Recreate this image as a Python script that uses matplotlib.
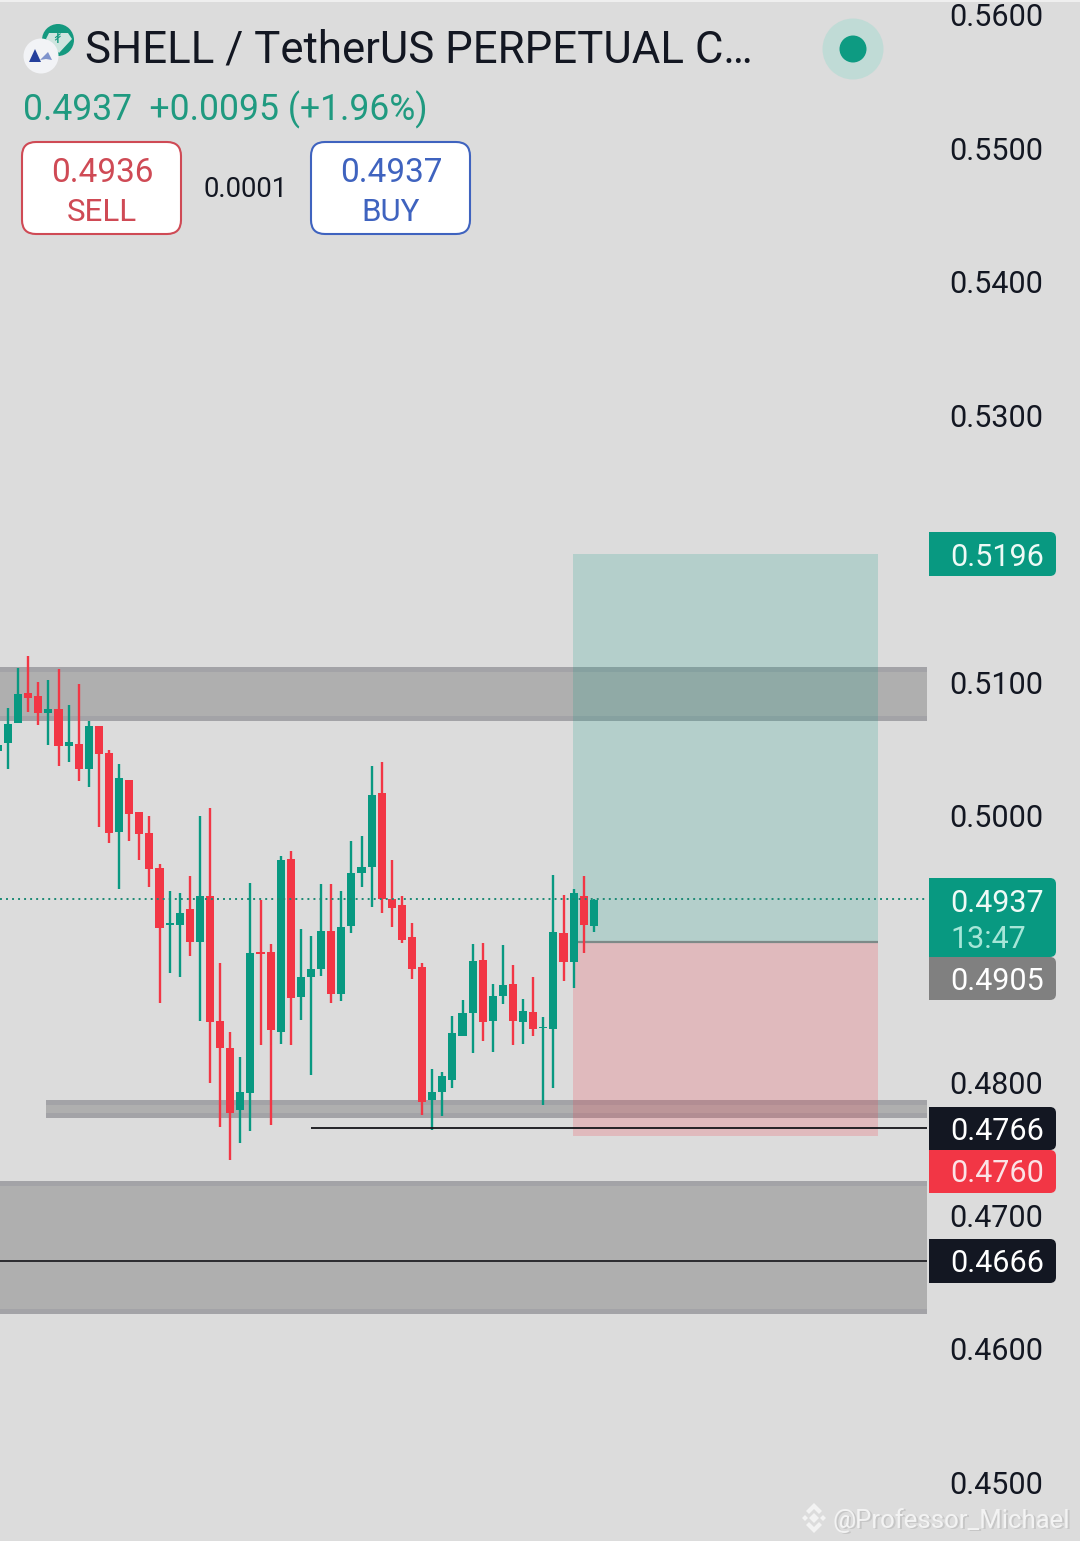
import numpy as np
import matplotlib
matplotlib.use('Agg')
import matplotlib.pyplot as plt
from matplotlib.patches import Rectangle, FancyBboxPatch, Circle, Polygon

plt.rcParams['font.family'] = ['Roboto', 'DejaVu Sans']

# candles
opens = [0.50483, 0.50543, 0.50693, 0.50918, 0.50896, 0.50768, 0.50798, 0.50521, 0.50536, 0.50348,
         0.50671, 0.50468, 0.49876, 0.50266, 0.50026, 0.49868, 0.49606, 0.49179, 0.49179, 0.49299,
         0.49052, 0.49397, 0.48459, 0.48257, 0.47792, 0.47919, 0.48977, 0.48977, 0.48377, 0.49673,
         0.48639, 0.48789, 0.48849, 0.49134, 0.48662, 0.49172, 0.49568, 0.49613, 0.50168, 0.49374,
         0.49329, 0.49089, 0.48864, 0.47867, 0.47927, 0.48017, 0.48347, 0.48519, 0.48917, 0.48459,
         0.48647, 0.48737, 0.48452, 0.48527, 0.48407, 0.48399, 0.49119, 0.48902, 0.49397, 0.49172]
highs = [0.50566, 0.50806, 0.51106, 0.51196, 0.51001, 0.51016, 0.51098, 0.50828, 0.50986, 0.50708,
         0.50671, 0.50491, 0.50386, 0.50266, 0.50026, 0.49996, 0.49636, 0.49434, 0.49419, 0.49546,
         0.49996, 0.50056, 0.48894, 0.48377, 0.48189, 0.49494, 0.49367, 0.49037, 0.49696, 0.49733,
         0.49149, 0.49097, 0.49487, 0.49487, 0.49434, 0.49808, 0.49846, 0.50371, 0.50401, 0.49666,
         0.49397, 0.49194, 0.48894, 0.48099, 0.48077, 0.48497, 0.48617, 0.49037, 0.49044, 0.48737,
         0.49029, 0.48879, 0.48624, 0.48789, 0.48489, 0.49553, 0.49404, 0.49449, 0.49546, 0.49374]
lows = [0.50378, 0.50348, 0.50693, 0.50776, 0.50678, 0.50528, 0.50371, 0.50401, 0.50258, 0.50213,
        0.49913, 0.49793, 0.49449, 0.49808, 0.49666, 0.49464, 0.48594, 0.48819, 0.48789, 0.48947,
        0.48459, 0.47994, 0.47664, 0.47417, 0.47545, 0.47635, 0.48279, 0.47679, 0.48287, 0.48279,
        0.48467, 0.48054, 0.48797, 0.48594, 0.48609, 0.49119, 0.49464, 0.49314, 0.49269, 0.49164,
        0.49044, 0.48774, 0.47754, 0.47642, 0.47747, 0.47957, 0.48347, 0.48219, 0.48309, 0.48227,
        0.48587, 0.48279, 0.48287, 0.48347, 0.47829, 0.47957, 0.48759, 0.48707, 0.48969, 0.49127]
closes = [0.50528, 0.50686, 0.50911, 0.50881, 0.50768, 0.50798, 0.50521, 0.50551, 0.50348, 0.50671,
          0.50461, 0.49868, 0.50281, 0.50011, 0.49861, 0.49598, 0.49157, 0.49194, 0.49269, 0.49052,
          0.49397, 0.48452, 0.48257, 0.47769, 0.47927, 0.48969, 0.48962, 0.48392, 0.49666, 0.48632,
          0.48789, 0.48849, 0.49134, 0.48662, 0.49164, 0.49568, 0.49613, 0.50153, 0.49374, 0.49307,
          0.49067, 0.48849, 0.47852, 0.47927, 0.48047, 0.48369, 0.48519, 0.48909, 0.48452, 0.48647,
          0.48729, 0.48459, 0.48534, 0.48399, 0.48414, 0.49127, 0.48902, 0.49419, 0.49179, 0.49367]

price_ticks = [0.56, 0.55, 0.54, 0.53, 0.51, 0.50, 0.48, 0.47, 0.46, 0.45]

# horizontal zones (low, high)
zones = [(0.50708, 0.51113), (0.47732, 0.47867), (0.46263, 0.47259)]
zone_start = [None, 46, None]  # left pixel, None = from the edge

entry = 0.4905
target = 0.5196
stop = 0.4760
last_price = 0.4937
level1 = 0.4766
level2 = 0.4666

GREEN = '#089981'
RED = '#f23645'
DARK = '#131722'
BG = '#dcdcdc'


def px(x):
    # screen x to candle index
    return (x - 8) / 10.1


fig = plt.figure(figsize=(10.8, 15.41), dpi=100, facecolor=BG)
ax = fig.add_axes([0, 0, 1, 1], facecolor=BG)
ax.set_xlim(px(0), px(1080))
ax.set_ylim(0.56 - 1526 / 13340, 0.56 + 15 / 13340)
for s in ax.spines.values():
    s.set_visible(False)
ax.set_xticks([])
ax.yaxis.tick_right()
ax.set_yticks(price_ticks)
ax.set_yticklabels(['%.4f' % p for p in price_ticks])
ax.tick_params(axis='y', length=0, pad=-93.8, labelsize=22, labelcolor=DARK)

# zones with their darker edges
edge = 5 / 13340
for (lo, hi), start in zip(zones, zone_start):
    x0 = px(0) if start is None else px(start)
    w = px(927) - x0
    ax.add_patch(Rectangle((x0, lo), w, hi - lo, fc='#afafaf', ec='none', zorder=1))
    ax.add_patch(Rectangle((x0, lo), w, edge, fc='#a3a3a7', ec='none', zorder=1.1))
    ax.add_patch(Rectangle((x0, hi - edge), w, edge, fc='#a3a3a7', ec='none', zorder=1.1))

# long position box
ax.add_patch(Rectangle((px(573), entry), px(878) - px(573), target - entry, fc=GREEN, alpha=0.185, ec='none', zorder=2))
ax.add_patch(Rectangle((px(573), stop), px(878) - px(573), entry - stop, fc=RED, alpha=0.2, ec='none', zorder=2))
ax.plot([px(578), px(878)], [entry, entry], color='#7d8a88', lw=1.6, zorder=3, solid_capstyle='butt')

# levels
ax.plot([px(311), px(927)], [level1, level1], color='#15151a', lw=1.3, zorder=5, solid_capstyle='butt')
ax.plot([px(0), px(927)], [level2, level2], color='#15151a', lw=1.2, zorder=5, solid_capstyle='butt')

# candles
x = np.arange(-1, len(opens) - 1)
o = np.array(opens)
c = np.array(closes)
colors = [GREEN if cc >= oo else RED for oo, cc in zip(opens, closes)]
ax.vlines(x, lows, highs, colors=colors, lw=1.7, zorder=4)
ax.bar(x, np.abs(c - o), bottom=np.minimum(o, c), width=0.8, color=colors, zorder=4)

ax.plot([px(0), px(927)], [last_price, last_price], color='#1d8a75', lw=1.4, ls=(0, (1, 2.1)), zorder=5)

# everything around the chart, in screen pixels
ui = fig.add_axes([0, 0, 1, 1], facecolor='none')
ui.set_xlim(0, 1080)
ui.set_ylim(1541, 0)
ui.axis('off')

ui.add_patch(Rectangle((0, 0), 1080, 2, fc='#efefef', ec='none'))


def badge(y0, y1, color, lines):
    ui.add_patch(FancyBboxPatch((934, y0 + 5), 117, y1 - y0 - 10, boxstyle='round,pad=5,rounding_size=6',
                                fc=color, ec='none', mutation_aspect=1))
    ui.add_patch(Rectangle((929, y0), 20, y1 - y0, fc=color, ec='none'))
    for txt, yc, col in lines:
        ui.text(950.7, yc, txt, color=col, fontsize=22, ha='left', va='center_baseline')


badge(532, 576, GREEN, [('0.5196', 554, '#eefaf6')])
badge(878, 957, GREEN, [('0.4937', 900, '#eefaf6'), ('13:47', 936, '#a6e6d8')])
badge(957, 1000, '#808080', [('0.4905', 978, 'white')])
badge(1107, 1150, DARK, [('0.4766', 1128, 'white')])
badge(1150, 1193, RED, [('0.4760', 1171, '#fbe3e6')])
badge(1239, 1283, DARK, [('0.4666', 1261, 'white')])

# header
ui.text(85, 46, 'SHELL / TetherUS PERPETUAL C…', color=DARK, fontsize=31.5, ha='left', va='center_baseline')
ui.text(23, 106, '0.4937  +0.0095 (+1.96%)', color='#1f9a80', fontsize=25.6, ha='left', va='center_baseline')

ui.add_patch(FancyBboxPatch((36, 156), 131, 64, boxstyle='round,pad=14,rounding_size=14', fc='white', ec='#cf4a55', lw=1.5))
ui.add_patch(FancyBboxPatch((325, 156), 131, 64, boxstyle='round,pad=14,rounding_size=14', fc='white', ec='#3f63bf', lw=1.5))
ui.text(102, 169, '0.4936', color='#cf4a55', fontsize=24, ha='center', va='center_baseline')
ui.text(102, 209, 'SELL', color='#cf4a55', fontsize=22.5, ha='center', va='center_baseline')
ui.text(391, 169, '0.4937', color='#3f63bf', fontsize=24, ha='center', va='center_baseline')
ui.text(391, 209, 'BUY', color='#3f63bf', fontsize=22.5, ha='center', va='center_baseline')
ui.text(246, 186, '0.0001', color=DARK, fontsize=19.8, ha='center', va='center_baseline')

# status dot
ui.add_patch(Circle((853, 49), 30.5, fc='#c0dbd6', ec='none'))
ui.add_patch(Circle((853, 49), 13.5, fc='#0d9b82', ec='none'))

# coin icons
ui.add_patch(Circle((58, 40), 16, fc='#14997f', ec='none'))
ui.add_patch(Polygon([(49, 33), (68, 33), (72, 39), (59, 53), (46, 39)], fc='#cfe5df', ec='none'))
ui.text(58, 38, '₮', color='#14997f', fontsize=11, ha='center', va='center', family=['DejaVu Sans'])
ui.add_patch(Circle((41, 56), 17.5, fc='#f2f3f6', ec='none'))
ui.add_patch(Polygon([(29, 62), (35, 49), (41, 62)], fc='#25409c', ec='none'))
ui.add_patch(Polygon([(40, 60), (48, 52), (52, 60), (46, 59)], fc='#7f93cc', ec='none'))

# watermark
wm = '#f3f3f3'
shapes = [
    [(809, 1518), (814, 1513), (819, 1518), (814, 1523)],
    [(802, 1518), (805, 1515), (808, 1518), (805, 1521)],
    [(820, 1518), (823, 1515), (826, 1518), (823, 1521)],
    [(806, 1511), (814, 1503), (822, 1511), (819, 1514), (814, 1509), (809, 1514)],
    [(806, 1525), (809, 1522), (814, 1527), (819, 1522), (822, 1525), (814, 1533)],
]
for pts in shapes:
    ui.add_patch(Polygon(pts, fc=wm, ec='none'))
ui.text(834, 1519, '@Professor_Michael', color='#c6c6c6', fontsize=18.5, ha='left', va='center_baseline')
ui.text(833, 1518, '@Professor_Michael', color=wm, fontsize=18.5, ha='left', va='center_baseline')

fig.savefig('out.png', dpi=100, facecolor=BG)
